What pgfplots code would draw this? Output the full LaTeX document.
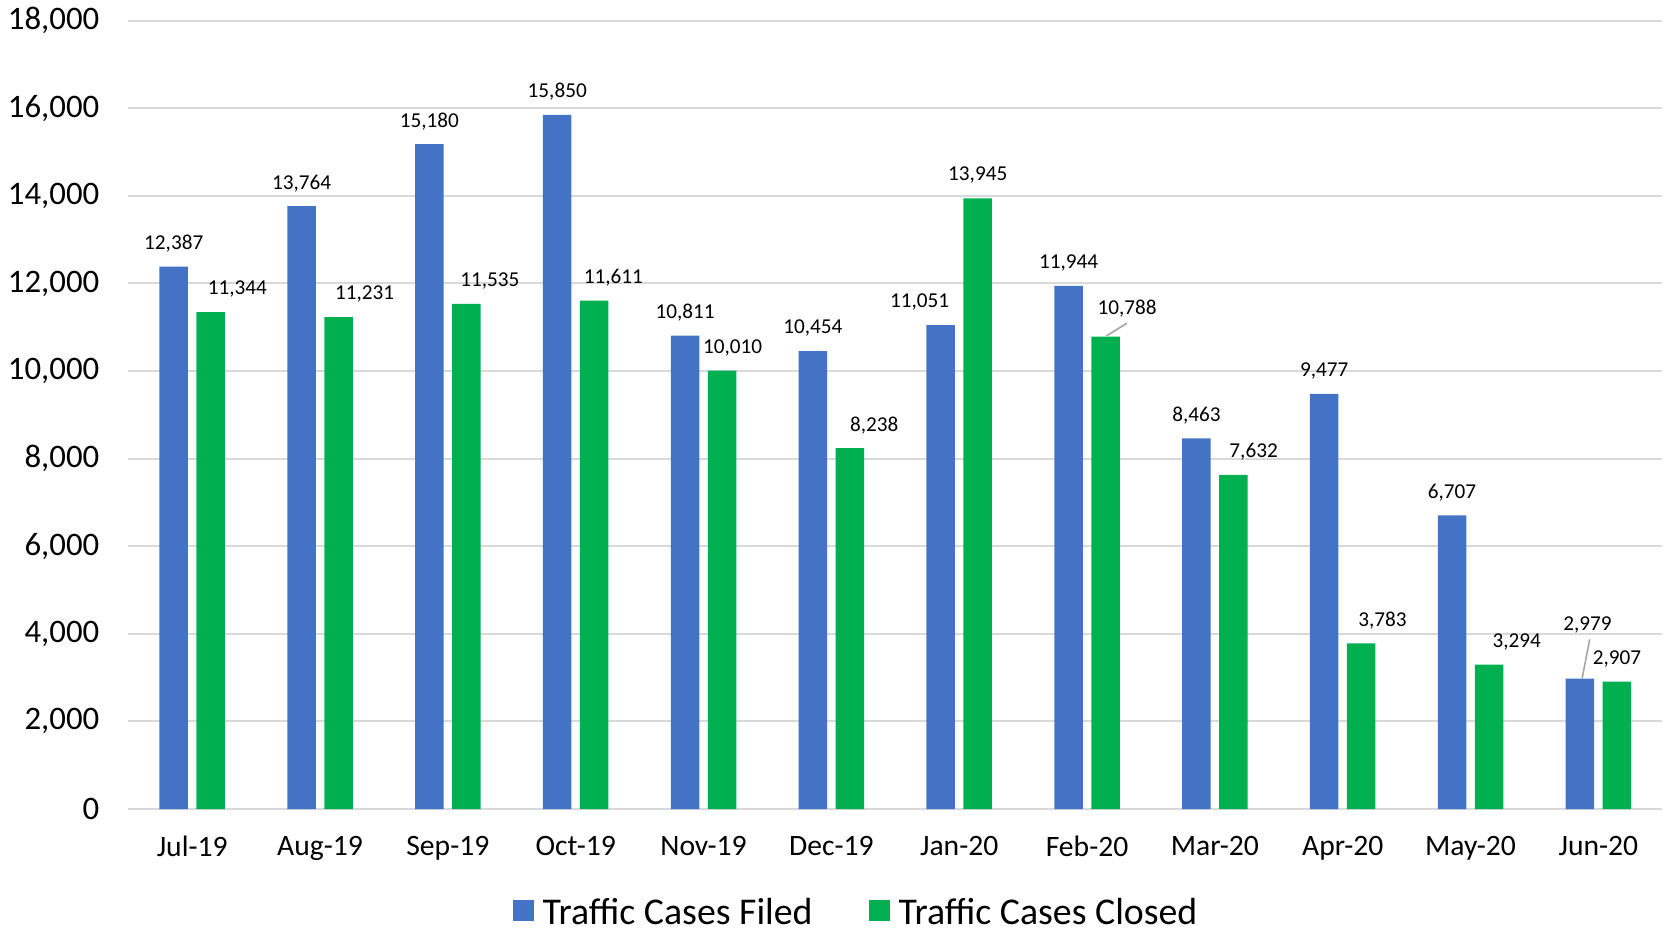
\documentclass[border=0pt]{standalone}
\usepackage{fontspec}
\setmainfont{Carlito}
\usepackage{pgfplots}
\usepackage{pgfplotstable}
\pgfplotsset{compat=1.18}
\definecolor{cblue}{HTML}{4472C4}
\definecolor{cgreen}{HTML}{00B050}
\definecolor{cgrid}{HTML}{D9D9D9}
\definecolor{cleader}{HTML}{A6A6A6}

\pgfplotstableread{
x y dx dy
0 12387 0 11.5
1 13764 0 11.5
2 15180 0 11.5
3 15850 0 11.5
4 10811 0 11.5
5 10454 0 11.5
6 11051 -10.6 11.5
7 11944 0 11.5
8 8463 0 11.5
9 9477 0 11.5
10 6707 0 11.5
11 2979 3.75 27
}\filed

\pgfplotstableread{
x y dx dy
0 11344 13.3 11.5
1 11231 13.0 11.5
2 11535 11.7 11.5
3 11611 9.6 11.5
4 10010 5.3 11.5
5 8238 12.2 11.5
6 13945 0 11.5
7 10788 10.75 13.8
8 7632 10.1 11.5
9 3783 10.6 11.5
10 3294 13.8 11.5
11 2907 0 11.5
}\closed

\begin{document}
\begin{tikzpicture}
\path[use as bounding box] (-64.15pt,-59.5pt) rectangle (768.35pt,404.5pt);
\begin{axis}[
  at={(0pt,0pt)}, anchor=south west,
  scale only axis,
  width=767pt, height=394.15pt,
  ybar=4.25pt, bar width=14.25pt,
  xmin=-0.5, xmax=11.5,
  ymin=0, ymax=18000,
  ytick distance=2000,
  scaled y ticks=false,
  xtick=data,
  xticklabels={Jul-19,Aug-19,Sep-19,Oct-19,Nov-19,Dec-19,Jan-20,Feb-20,Mar-20,Apr-20,May-20,Jun-20},
  major tick length=0pt,
  axis line style={draw=none},
  ymajorgrids,
  grid style={cgrid, line width=1pt},
  /pgf/number format/assume math mode=true,
  yticklabel={\pgfmathprintnumber[1000 sep={,}]{\tick}},
  yticklabel style={font=\fontsize{16.4}{19}\selectfont, xshift=-11pt},
  xticklabel style={font=\fontsize{14.8}{17}\selectfont, yshift=-10pt},
  nodes near coords={\pgfmathprintnumber[1000 sep={,},assume math mode=true]{\pgfplotspointmeta}},
  visualization depends on={\thisrow{dx} \as \labdx},
  visualization depends on={\thisrow{dy} \as \labdy},
  nodes near coords style={font=\fontsize{10.6}{12}\selectfont, anchor=center, xshift=\labdx pt, yshift=\labdy pt, text=black},
  legend columns=2,
  legend style={draw=none, fill=none, at={(0.475,-0.132)}, anchor=center,
    font=\fontsize{18.9}{22}\selectfont, inner sep=1pt,
    /tikz/every odd column/.append style={column sep=2.5pt},
    /tikz/every even column/.append style={column sep=26pt}},
  legend image code/.code={\fill[#1] (0pt,-4.2pt) rectangle (10.5pt,6.3pt);},
]
\addplot[fill=cblue, draw=none] table[x=x,y=y] {\filed};
\addlegendentry{Traffic Cases Filed}
\addplot[fill=cgreen, draw=none] table[x=x,y=y] {\closed};
\addlegendentry{Traffic Cases Closed}
\draw[cleader, line width=0.8pt] (axis cs:7.150,10801) -- (axis cs:7.312,11092);
\draw[cleader, line width=0.8pt] (axis cs:10.873,2985) -- (axis cs:10.932,3875);
\end{axis}
\end{tikzpicture}
\end{document}
